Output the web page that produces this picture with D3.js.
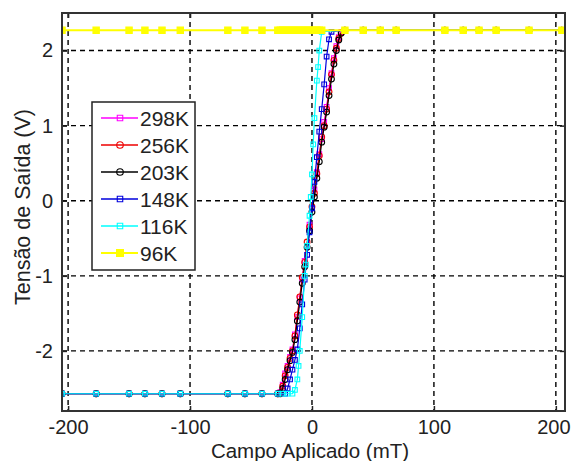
<!DOCTYPE html>
<html>
<head>
<meta charset="utf-8">
<script src="https://cdn.jsdelivr.net/npm/d3@7"></script>
<style>
  html, body { margin: 0; padding: 0; background: #fff; }
  svg { display: block; }
  text { font-family: "Liberation Sans", Arial, sans-serif; fill: #222; }
</style>
</head>
<body>
<svg id="chart" width="571" height="461"></svg>
<script>
// ---------------- DATA ----------------
const xTicks = [-200, -100, 0, 100, 200];
const yTicks = [-2, -1, 0, 1, 2];
const legendLabels = ["298K", "256K", "203K", "148K", "116K", "96K"];

const lowPlateauField  = [-205, -177, -150, -137, -123, -108, -69, -55, -41, -28];
const highPlateauField = [27, 42, 56, 69, 109, 124, 137, 151, 178, 205];
const lowLevel = -2.57;
const highLevel = 2.27;

const field298 = [-26,-24,-22,-20,-18,-16,-14,-12,-10,-8,-6,-4,-2,0,2,4,6,8,10,12,14,16,18,20,22,24];
const volt298  = [-2.55,-2.45,-2.3,-2.2,-2.08,-1.98,-1.78,-1.55,-1.3,-1.05,-0.8,-0.6,-0.32,-0.1,0.15,0.38,0.62,0.82,1.05,1.25,1.5,1.7,1.9,2.06,2.18,2.25];

const field256 = [-26,-24,-22,-20,-18,-16,-14,-12,-10,-8,-6,-4,-2,0,2,4,6,8,10,12,14,16,18,20,22,24];
const volt256  = [-2.56,-2.47,-2.33,-2.22,-2.1,-2.0,-1.8,-1.52,-1.28,-1.02,-0.82,-0.55,-0.35,-0.08,0.1,0.36,0.6,0.85,1.0,1.22,1.45,1.68,1.87,2.03,2.16,2.24];

const field203 = [-26,-24,-22,-20,-18,-16,-14,-12,-10,-8,-6,-4,-2,0,2,4,6,8,10,12,14,16,18,20,22,24];
const volt203  = [-2.57,-2.5,-2.38,-2.25,-2.13,-2.02,-1.85,-1.6,-1.35,-1.1,-0.88,-0.62,-0.4,-0.15,0.05,0.3,0.52,0.78,0.98,1.18,1.4,1.62,1.82,2.0,2.14,2.23];

const field148 = [-22,-20,-18,-16,-14,-12,-10,-8,-6,-4,-2,0,2,4,6,8,10,12,14,16];
const volt148  = [-2.57,-2.5,-2.38,-2.25,-2.12,-1.98,-1.7,-1.38,-1.05,-0.72,-0.42,-0.1,0.25,0.58,0.92,1.22,1.55,1.92,2.15,2.25];

const field116 = [-24,-20,-16,-14,-12,-11,-10,-8,-6,-5,-4,-2,-1,0,1,2,4,5,6,8];
const volt116  = [-2.57,-2.57,-2.57,-2.52,-2.38,-2.2,-2.0,-1.55,-1.0,-0.85,-0.6,-0.2,0.05,0.35,0.75,1.1,1.6,1.78,2.0,2.25];

const field96 = [-26,-24,-22,-20,-18,-16,-14,-12,-10,-8,-6,-4,-2,0,2,4,6,8];
const volt96  = [2.27,2.27,2.27,2.27,2.27,2.27,2.27,2.27,2.27,2.27,2.27,2.27,2.27,2.27,2.27,2.27,2.27,2.27];

// ---------------- BUILD ----------------
function buildSeries(tf, tv, lowLv, highLv) {
  const pts = [];
  lowPlateauField.forEach(f => pts.push([f, lowLv]));
  tf.forEach((f, i) => pts.push([f, tv[i]]));
  highPlateauField.forEach(f => pts.push([f, highLv]));
  return pts;
}

const series = [
  { name: legendLabels[0], color: "#ff00ff", sym: d3.symbolSquare,  size: 22, fill: "none", pts: buildSeries(field298, volt298, lowLevel, highLevel) },
  { name: legendLabels[1], color: "#ee0000", sym: d3.symbolCircle,  size: 26, fill: "none", pts: buildSeries(field256, volt256, lowLevel, highLevel) },
  { name: legendLabels[2], color: "#000000", sym: d3.symbolCircle,  size: 26, fill: "none", pts: buildSeries(field203, volt203, lowLevel, highLevel) },
  { name: legendLabels[3], color: "#0000dd", sym: d3.symbolSquare,  size: 22, fill: "none", pts: buildSeries(field148, volt148, lowLevel, highLevel) },
  { name: legendLabels[4], color: "#00ffff", sym: d3.symbolSquare,  size: 22, fill: "none", pts: buildSeries(field116, volt116, lowLevel, highLevel) },
  { name: legendLabels[5], color: "#ffff00", sym: d3.symbolSquare,  size: 40, fill: "#ffff00", pts: buildSeries(field96, volt96, highLevel, highLevel) }
];

// ---------------- DRAW ----------------
const svg = d3.select("#chart");
const L = 62, R = 565, T = 13, B = 411;

const x = d3.scaleLinear().domain([-205, 207.5]).range([L, R]);
const y = d3.scaleLinear().domain([-2.8, 2.5]).range([B, T]);

svg.append("rect").attr("width", 571).attr("height", 461).attr("fill", "#fff");

// grid
const grid = svg.append("g");
grid.selectAll(".vg").data(xTicks).enter().append("line")
  .attr("x1", d => x(d)).attr("x2", d => x(d)).attr("y1", T).attr("y2", B)
  .attr("stroke", "#000").attr("stroke-width", 1.4).attr("stroke-dasharray", "5,4");
grid.selectAll(".hg").data(yTicks).enter().append("line")
  .attr("y1", d => y(d)).attr("y2", d => y(d)).attr("x1", L).attr("x2", R)
  .attr("stroke", "#000").attr("stroke-width", 1.4).attr("stroke-dasharray", "5,4");

// axes with inner ticks
const tl = 5;
const fmt = d => String(d);
svg.append("g").attr("class", "xaxis").attr("transform", `translate(0,${B})`)
  .call(d3.axisBottom(x).tickValues(xTicks).tickSize(-tl).tickPadding(9).tickFormat(fmt))
  .call(g => g.select(".domain").remove());
svg.append("g").attr("transform", `translate(0,${T})`)
  .call(d3.axisTop(x).tickValues(xTicks).tickSize(-tl).tickFormat(""))
  .call(g => g.select(".domain").remove());
svg.append("g").attr("transform", `translate(${L},0)`)
  .call(d3.axisLeft(y).tickValues(yTicks).tickSize(-tl).tickPadding(9).tickFormat(fmt))
  .call(g => g.select(".domain").remove());
svg.append("g").attr("transform", `translate(${R},0)`)
  .call(d3.axisRight(y).tickValues(yTicks).tickSize(-tl).tickFormat(""))
  .call(g => g.select(".domain").remove());

svg.selectAll(".tick line").attr("stroke", "#222").attr("stroke-width", 1.5);
svg.selectAll(".tick text").attr("font-size", 20).attr("fill", "#222")
  .attr("font-family", "'Liberation Sans', Arial, sans-serif");
// keep the last x label inside the window
svg.selectAll(".xaxis .tick text").filter(d => d === xTicks[xTicks.length - 1])
  .attr("text-anchor", "end").attr("x", 570 - x(xTicks[xTicks.length - 1]));

// data
const clip = svg.append("clipPath").attr("id", "clip").append("rect")
  .attr("x", L).attr("y", T).attr("width", R - L).attr("height", B - T);
const plot = svg.append("g").attr("clip-path", "url(#clip)");
const line = d3.line().x(d => x(d[0])).y(d => y(d[1]));

series.forEach(s => {
  const g = plot.append("g");
  g.append("path").datum(s.pts).attr("d", line)
    .attr("fill", "none").attr("stroke", s.color).attr("stroke-width", s.name === "96K" ? 2 : 1.2);
  g.selectAll("path.m").data(s.pts).enter().append("path").attr("class", "m")
    .attr("d", d3.symbol().type(s.sym).size(s.size))
    .attr("transform", d => `translate(${x(d[0])},${y(d[1])})`)
    .attr("fill", s.fill).attr("stroke", s.color).attr("stroke-width", 1.1);
});

// frame
svg.append("rect").attr("x", L).attr("y", T).attr("width", R - L).attr("height", B - T)
  .attr("fill", "none").attr("stroke", "#333").attr("stroke-width", 2);

// axis labels
svg.append("text").attr("x", 310).attr("y", 458).attr("text-anchor", "middle")
  .attr("font-size", 20.5).text("Campo Aplicado (mT)");
svg.append("text").attr("transform", "translate(30,207) rotate(-90)").attr("text-anchor", "middle")
  .attr("font-size", 21.5).text("Tensão de Saída (V)");

// legend
const lg = svg.append("g");
const lx = 92, ly = 102, lw = 103, lh = 168;
lg.append("rect").attr("x", lx).attr("y", ly).attr("width", lw).attr("height", lh)
  .attr("fill", "#fff").attr("stroke", "#222").attr("stroke-width", 1.5);
series.forEach((s, i) => {
  const cy = 118 + i * 27;
  lg.append("line").attr("x1", 101).attr("x2", 138).attr("y1", cy).attr("y2", cy)
    .attr("stroke", s.color).attr("stroke-width", s.name === "96K" ? 2 : 1.3);
  lg.append("path").attr("d", d3.symbol().type(s.sym).size(s.size + 8)())
    .attr("transform", `translate(120,${cy})`)
    .attr("fill", s.fill).attr("stroke", s.color).attr("stroke-width", 1.1);
  lg.append("text").attr("x", 140).attr("y", cy + 7.5).attr("font-size", 21).text(s.name);
});
</script>
</body>
</html>
